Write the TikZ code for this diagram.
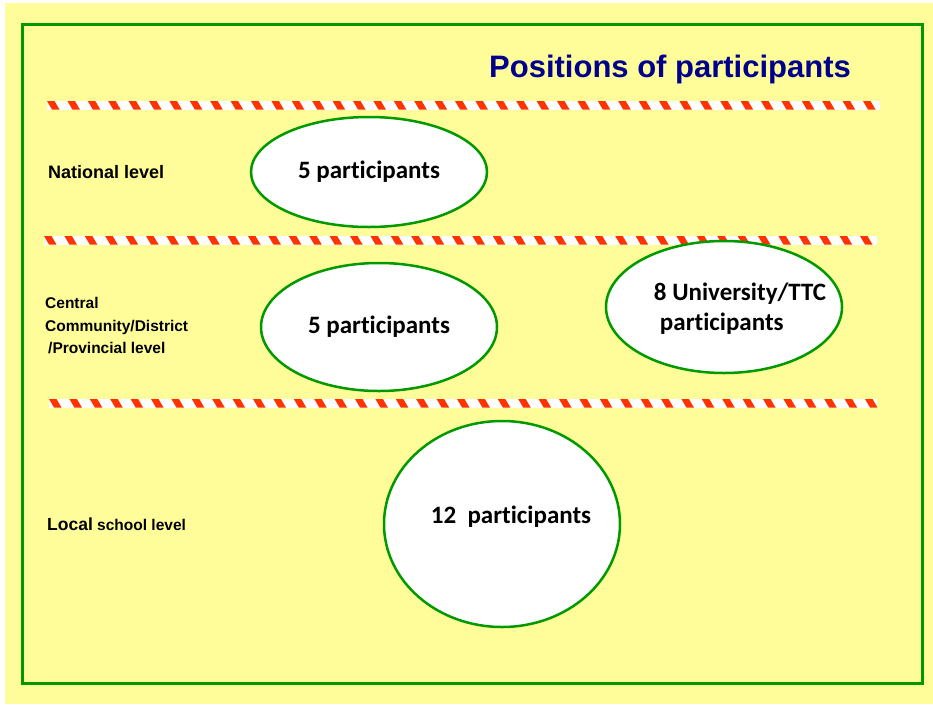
\documentclass[tikz,border=0pt]{standalone}
\usepackage{fontspec}
\setmainfont{Liberation Sans}
\newfontfamily\calibri[Ligatures=NoCommon]{Carlito}
\usetikzlibrary{shapes.geometric}
\definecolor{paleyellow}{RGB}{255,253,153}
\definecolor{framegreen}{RGB}{0,153,0}
\definecolor{stripered}{RGB}{255,51,0}
\definecolor{titleblue}{RGB}{0,0,140}
\begin{document}
\begin{tikzpicture}
[x=1pt,y=-1pt,
  ovaldecorate/.style={shape=ellipse,draw=framegreen,fill=white,line width=2.5pt,
    minimum width=236,inner sep=0pt,font=\calibri\bfseries\fontsize{25}{30}\selectfont},
  partext/.style={inner sep=0pt,font=\calibri\bfseries\fontsize{25}{30}\selectfont},
  leveltext/.style={anchor=west,inner sep=0pt,align=left,font=\bfseries\fontsize{15.5}{22.5}\selectfont},
  stripedecorate/.style={fill=stripered}]
\useasboundingbox (0,0) rectangle (933,704);
%%% background and frame
\fill[paleyellow] (5,3) rectangle (933,704);
\draw[framegreen,line width=3pt] (22.5,24.5) rectangle (922,683.5);
%%% title
\node (title) at (670,69) [inner sep=0pt,text=titleblue,font=\bfseries\fontsize{31}{36}\selectfont]
  {Positions of participants};
%%% striped bands
% band y positions: 101, 236, 399
\foreach \y/\a/\b in {101/47/880,236/44/877,399/49/877}{
  \begin{scope}
  \clip (\a,\y) rectangle (\b,\y+8.5);
  \fill[white] (\a,\y) rectangle (\b,\y+8.5);
  \foreach \s in {0,20.4,...,840}
    \fill[stripedecorate] (\a+\s,\y) -- ++(7.5,0) -- ++(5,8.5) -- ++(-7.5,0) -- cycle;
  \end{scope}
}
%%% levels
\node (national) at (48,172) [leveltext,font=\bfseries\fontsize{18}{20}\selectfont] {National level};
\node (central) at (45,326) [leveltext] {Central\\Community/District\\\hspace{3pt}/Provincial level};
\node (local) at (47,524) [leveltext]
  {{\fontsize{17.5}{20}\selectfont Local} school level};
%%% participants
\node (nat) at (369,172) [ovaldecorate,minimum height=110] {5 participants};
\node (cen) at (379,327) [ovaldecorate,minimum height=128] {5 participants};
\node (uni) at (724,307) [ovaldecorate,minimum height=132] {};
\node (unitext) at (740,309) [partext,align=left] {8 University/TTC\\\hspace{6pt}participants};
\node (loc) at (502,524) [ovaldecorate,minimum height=206] {};
\node (loctext) at (511,517) [partext] {12\ \ participants};
\end{tikzpicture}
\end{document}
